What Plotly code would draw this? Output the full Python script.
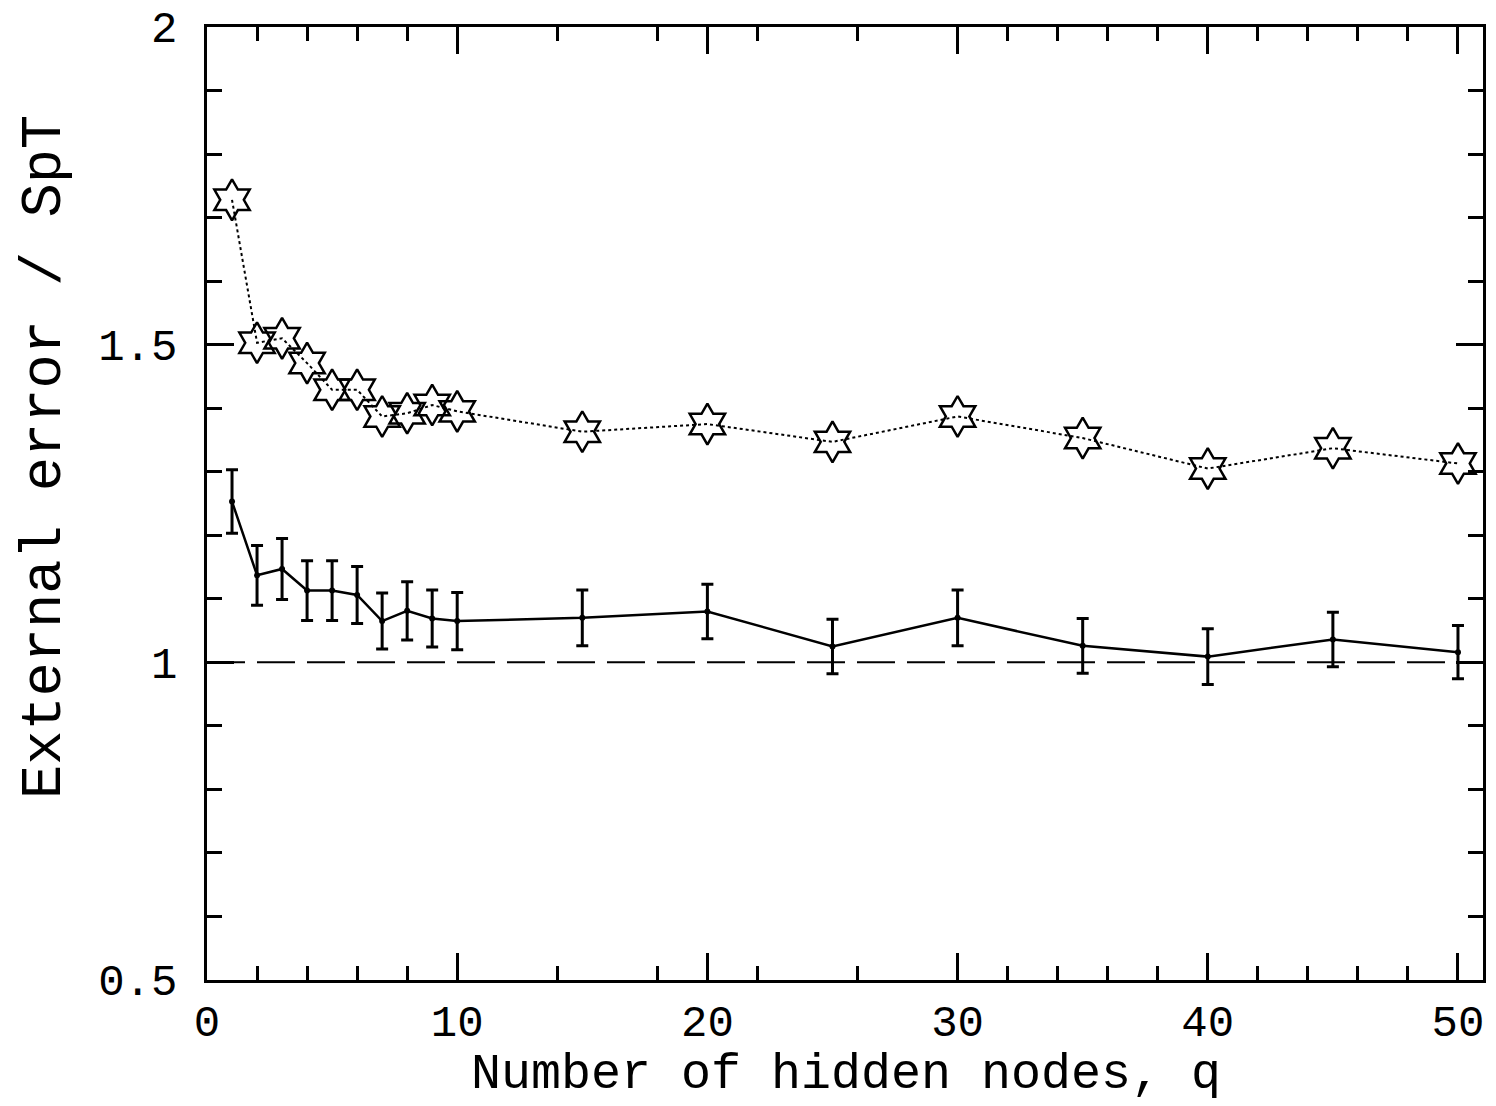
import plotly.graph_objects as go

q_nodes = [1, 2, 3, 4, 5, 6, 7, 8, 9, 10, 15, 20, 25, 30, 35, 40, 45, 50]
star_err = [1.728, 1.503, 1.510, 1.471, 1.429, 1.429, 1.387, 1.392, 1.405, 1.395,
            1.363, 1.375, 1.347, 1.387, 1.353, 1.305, 1.337, 1.313]
ext_err = [1.253, 1.137, 1.147, 1.113, 1.113, 1.106, 1.065, 1.081, 1.069, 1.065,
           1.070, 1.080, 1.025, 1.070, 1.026, 1.009, 1.036, 1.016]
ext_sd = [0.050, 0.047, 0.048, 0.047, 0.047, 0.045, 0.044, 0.046, 0.045, 0.045,
          0.044, 0.043, 0.043, 0.044, 0.043, 0.044, 0.043, 0.042]
ref_level = [1.0, 1.0]
ref_x = [0, 51]

x_major = [0, 10, 20, 30, 40, 50]
x_minor = [2, 4, 6, 8, 14, 18, 22, 26, 32, 34, 36, 38, 42, 44, 46, 48]
y_major = [0.5, 1, 1.5, 2]
y_labels = ["0.5", "1", "1.5", "2"]

FONT = "Liberation Mono"

fig = go.Figure()
fig.add_trace(go.Scatter(
    x=ref_x, y=ref_level, mode="lines",
    line=dict(color="black", width=2, dash="38px,12px"),
    showlegend=False, hoverinfo="skip"))
fig.add_trace(go.Scatter(
    x=q_nodes, y=star_err, mode="lines+markers",
    line=dict(color="black", width=2, dash="dot"),
    marker=dict(symbol="hexagram-open", size=31, color="black",
                line=dict(width=2.5, color="black")),
    showlegend=False))
fig.add_trace(go.Scatter(
    x=q_nodes, y=ext_err, mode="lines+markers",
    line=dict(color="black", width=2.5),
    marker=dict(symbol="circle", size=6, color="black"),
    error_y=dict(type="data", array=ext_sd, visible=True,
                 color="black", thickness=3, width=6),
    showlegend=False))

axis_common = dict(
    showgrid=False, zeroline=False, showline=True, linecolor="black", linewidth=2.5,
    mirror="ticks", ticks="inside", tickcolor="black", tickwidth=2.5, ticklen=27,
    tickfont=dict(family=FONT, size=44, color="black"),
)

fig.update_xaxes(
    range=[0, 51], tickmode="array", tickvals=x_major,
    minor=dict(ticks="inside", ticklen=14, tickwidth=2.5, tickcolor="black",
               tickmode="array", tickvals=x_minor),
    ticklabelstandoff=0,
    **axis_common)
fig.update_yaxes(
    range=[0.5, 2], tickmode="array", tickvals=y_major, ticktext=y_labels,
    minor=dict(ticks="inside", ticklen=15, tickwidth=2.5, tickcolor="black", dtick=0.1, tick0=0.5),
    ticklabelstandoff=18,
    **axis_common)

fig.add_annotation(
    text="Number of hidden nodes, q", xref="paper", yref="paper",
    x=(846 - 207) / 1276, y=-(1074 - 980) / 953, xanchor="center", yanchor="middle",
    showarrow=False, font=dict(family=FONT, size=50, color="black"))
fig.add_annotation(
    text="External error / SpT", xref="paper", yref="paper", textangle=-90,
    x=(45 - 207) / 1276, y=(980 - 457) / 953, xanchor="center", yanchor="middle",
    showarrow=False, font=dict(family=FONT, size=57, color="black"))

fig.update_layout(
    width=1496, height=1106,
    margin=dict(l=207, r=13, t=27, b=126, autoexpand=False),
    paper_bgcolor="white", plot_bgcolor="white",
)

fig.write_html("out.html")
